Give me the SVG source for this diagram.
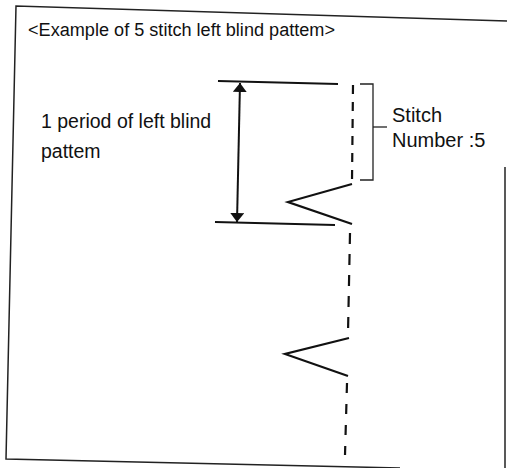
<svg xmlns="http://www.w3.org/2000/svg" width="507" height="468" viewBox="0 0 507 468">
<style>
text{font-family:"Liberation Sans",Arial,sans-serif;fill:#111}
.frame{fill:none;stroke:#222;stroke-width:1.5}
.dim{fill:none;stroke:#111;stroke-width:2}
.stitch{fill:none;stroke:#111;stroke-width:2.2;stroke-linecap:butt}
.br{fill:none;stroke:#222;stroke-width:1.3}
</style>
<defs>
<marker id="ah" viewBox="0 0 9 14" refX="9" refY="7" markerWidth="9" markerHeight="14" markerUnits="userSpaceOnUse" orient="auto-start-reverse">
<path d="M0,0 L9,7 L0,14 Z" fill="#111"/>
</marker>
</defs>
<rect width="507" height="468" fill="#fff"/>
<g id="frame">
<polyline class="frame" points="507,21 16,6 6,459 400,468"/>
<line class="frame" x1="505" y1="167" x2="505" y2="468"/>
</g>
<g id="title"><text x="28" y="36" font-size="18" textLength="307" lengthAdjust="spacingAndGlyphs">&lt;Example of 5 stitch left blind pattem&gt;</text></g>
<g id="period-label">
<text x="41" y="128" font-size="19.5">1 period of left blind</text>
<text x="41" y="158" font-size="19.5">pattem</text>
</g>
<g id="stitch-label">
<text x="392" y="122" font-size="20">Stitch</text>
<text x="392" y="147" font-size="20">Number :5</text>
</g>
<g id="pattern">
<line class="stitch" x1="353" y1="85" x2="352" y2="181" stroke-dasharray="9 8"/>
<polyline class="stitch" points="352,184 288,202 352,224"/>
<line class="stitch" x1="350" y1="233" x2="348" y2="333" stroke-dasharray="11 10"/>
<polyline class="stitch" points="349,338 285,354 348,376"/>
<line class="stitch" x1="347" y1="383" x2="345" y2="455" stroke-dasharray="10 11"/>
</g>
<g id="bracket">
<polyline class="br" points="360,84 373,84 373,180 360,180"/>
<line class="br" x1="373" y1="127" x2="387" y2="127"/>
</g>
<g id="connectors">
<line class="dim" x1="218" y1="81" x2="338" y2="84"/>
<line class="dim" x1="215" y1="222" x2="335" y2="225"/>
<line class="dim" x1="240" y1="83" x2="237" y2="222" marker-start="url(#ah)" marker-end="url(#ah)"/>
</g>
</svg>
